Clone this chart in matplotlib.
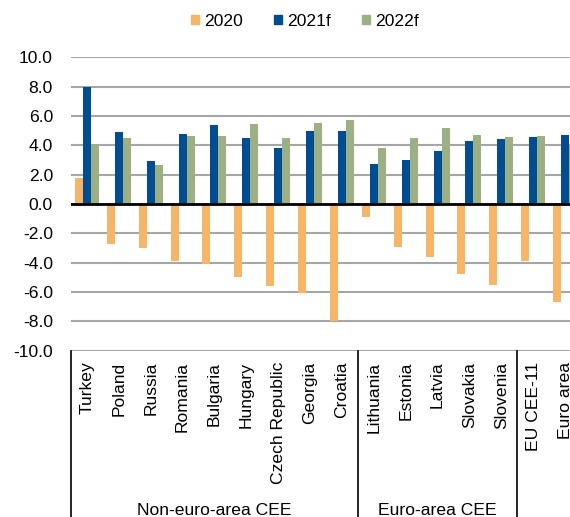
import numpy as np
import matplotlib
matplotlib.use("Agg")
import matplotlib.pyplot as plt
from matplotlib.patches import Patch

plt.rcParams['font.family'] = ['Liberation Sans', 'DejaVu Sans']
plt.rcParams['font.size'] = 12.6
plt.rcParams['axes.unicode_minus'] = False

categories = ["Turkey", "Poland", "Russia", "Romania", "Bulgaria", "Hungary",
              "Czech Republic", "Georgia", "Croatia", "Lithuania", "Estonia",
              "Latvia", "Slovakia", "Slovenia", "EU CEE-11", "Euro area"]
groups = ["Non-euro-area CEE", "Euro-area CEE"]
group_spans = [(0, 8), (9, 13)]  # indici di prima e ultima categoria

v2020 = [1.8, -2.7, -3.0, -3.9, -4.1, -5.0, -5.6, -6.1, -8.0,
         -0.9, -2.9, -3.6, -4.8, -5.5, -3.9, -6.7]
v2021 = [8.0, 4.9, 2.95, 4.75, 5.4, 4.5, 3.8, 5.0, 5.0,
         2.7, 3.0, 3.6, 4.3, 4.4, 4.55, 4.7]
v2022 = [4.0, 4.5, 2.65, 4.65, 4.65, 5.45, 4.5, 5.5, 5.75,
         3.8, 4.5, 5.2, 4.7, 4.6, 4.65, 4.1]

series = [("2020", v2020, "#F7B667"),
          ("2021f", v2021, "#004D91"),
          ("2022f", v2022, "#9BB183")]

W, H = 570, 517
fs = 12.6
fig = plt.figure(figsize=(W / 100, H / 100), dpi=100)
# l'asse esce dal bordo destro come nell'originale (ultima colonna tagliata)
ax_l, ax_r, ax_t, ax_b = 71, 581, 57.3, 350.7
ax = fig.add_axes([ax_l / W, 1 - ax_b / H, (ax_r - ax_l) / W, (ax_b - ax_t) / H])

x = np.arange(len(categories))
bw = 0.25
for i, (name, vals, col) in enumerate(series):
    ax.bar(x + (i - 1) * bw, vals, bw, color=col, label=name, zorder=2)

ax.set_xlim(-0.5, len(categories) - 0.5)
ax.set_ylim(-10, 10)
ax.set_yticks(np.arange(-10, 10.1, 2))
ax.set_yticklabels(["%.1f" % v for v in np.arange(-10, 10.1, 2)])
ax.tick_params(axis='y', length=0, pad=13, labelsize=fs)
ax.set_xticks([])
ax.yaxis.grid(True, color="#A6A6A6", lw=1.5)
ax.set_axisbelow(True)
ax.axhline(0, color="black", lw=2, zorder=3)
for s in ax.spines.values():
    s.set_visible(False)

# asse categorie a due livelli sotto il grafico
h_px = ax_b - ax_t
trans = ax.get_xaxis_transform()
y_end = -(H - ax_b) / h_px
for xv in [-0.5, 8.5, 13.5]:
    ax.plot([xv, xv], [0, y_end], color="black", lw=1.2, transform=trans, clip_on=False)

for i, c in enumerate(categories):
    ax.text(i, -11 / h_px, c, rotation=90, ha='center', va='top',
            fontsize=fs, transform=trans, clip_on=False)

for g, (a, b) in zip(groups, group_spans):
    ax.text((a + b) / 2, -(503 - ax_b) / h_px, g, ha='center', va='top',
            fontsize=fs, transform=trans, clip_on=False)

handles = [Patch(color=c, label=n) for n, _, c in series]
fig.legend(handles=handles, loc='center', bbox_to_anchor=(305 / W, 1 - 21 / H),
           ncol=3, frameon=False, fontsize=fs, handlelength=0.42, handleheight=0.42,
           handletextpad=0.3, columnspacing=1.8)

fig.savefig("out.png", dpi=100)
